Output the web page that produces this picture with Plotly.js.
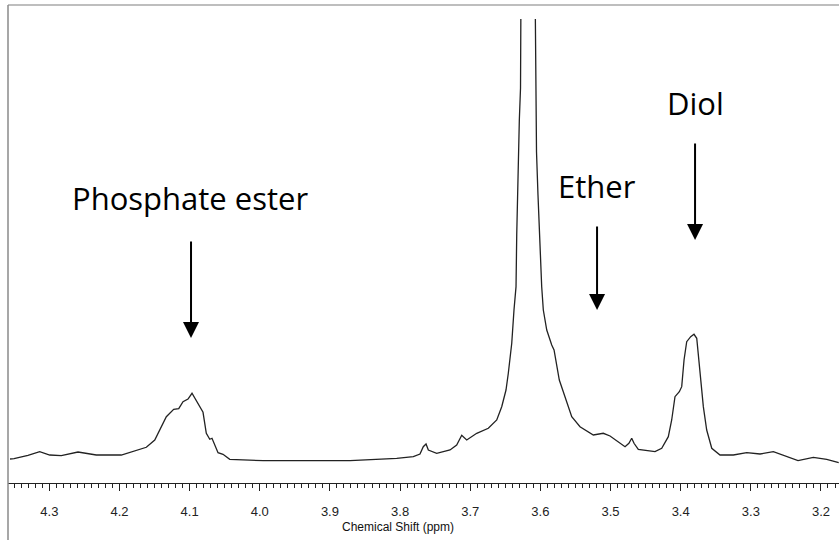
<!DOCTYPE html>
<html>
<head>
<meta charset="utf-8">
<script src="https://cdn.plot.ly/plotly-3.0.1.min.js"></script>
<style>html,body{margin:0;padding:0;background:#fff;}#chart{width:839px;height:540px;}</style>
</head>
<body>
<div id="chart"></div>
<script>
// Chemical shift (ppm) and relative intensity (a.u.)
const shiftPpm = [4.3560,4.3503,4.3304,4.3137,4.2994,4.2829,4.2591,4.2330,4.1974,4.1783,4.1617,4.1497,4.1403,4.1332,4.1227,4.1155,4.1094,4.1023,4.0966,4.0904,4.0809,4.0762,4.0713,4.0681,4.0642,4.0595,4.0524,4.0428,3.9949,3.9383,3.9212,3.8713,3.8048,3.7811,3.7716,3.7669,3.7630,3.7597,3.7478,3.7288,3.7193,3.7121,3.7050,3.6907,3.6742,3.6622,3.6551,3.6490,3.6457,3.6408,3.6376,3.6347,3.6337,3.6319,3.6300,3.6283,3.6269,3.6178,3.6086,3.6076,3.6069,3.6055,3.6034,3.6015,3.5998,3.5981,3.5958,3.5909,3.5838,3.5805,3.5730,3.5624,3.5553,3.5435,3.5245,3.5103,3.5007,3.4793,3.4738,3.4698,3.4665,3.4604,3.4366,3.4270,3.4176,3.4128,3.4081,3.4019,3.3985,3.3952,3.3914,3.3857,3.3810,3.3771,3.3724,3.3677,3.3629,3.3557,3.3439,3.3249,3.3058,3.2869,3.2679,3.2488,3.2327,3.2109,3.1918,3.1747];
const intensity = [0.25,0.33,1.18,2.08,1.25,1.08,2.0,1.25,1.25,2.33,3.18,5.0,8.33,10.83,12.68,12.83,14.58,15.25,16.68,14.83,11.93,6.68,5.18,5.43,3.75,1.83,1.43,0.18,-0.18,-0.18,0,-0.18,0.43,0.83,1.5,3.33,4.0,2.5,1.68,2.5,3.75,6.18,5.0,6.68,7.93,10.0,13.33,17.5,21.68,29.18,37.5,43.33,56.25,72.5,85,93,140,490,140,110.25,92,77,66.25,56.25,50,43.33,37.5,32.5,28.75,27.5,20,14.75,10.83,8.33,6.25,6.68,6.0,3.33,4.18,5.43,4.18,2.68,2.08,2.93,5.83,10.0,15.83,17.08,18.33,25,29.58,30.83,31.43,30.43,22.5,13.33,7.5,2.93,1.25,1.25,1.83,1.5,2.08,0.83,-0.13,0.63,0.18,-0.63];

// Peak labels and arrow tips
const labelText = ["Phosphate ester", "Ether", "Diol"];
const labelPpm = [4.0994, 3.5192, 3.3795];
const labelY = [65.5, 68.5, 89.25];
const arrowPpm = [4.098, 3.5192, 3.3795];
const arrowTipY = [30.5, 37.5, 55];
const arrowLenPx = [98, 85, 98];

const xRange = [4.3589, 3.1743];
const yRange = [-5.75, 110.25];

const annotations = [];
for (let i = 0; i < labelText.length; i++) {
  annotations.push({
    x: labelPpm[i], y: labelY[i], xref: 'x', yref: 'y',
    text: labelText[i], showarrow: false,
    xanchor: 'center', yanchor: 'middle',
    font: {family: 'Open Sans, DejaVu Sans, sans-serif', size: 31, color: '#000'}
  });
  annotations.push({
    x: arrowPpm[i], y: arrowTipY[i], xref: 'x', yref: 'y',
    text: '', showarrow: true, ax: 0, ay: -arrowLenPx[i],
    arrowhead: 2, arrowsize: 1.6, arrowwidth: 2, arrowcolor: '#000', standoff: 0
  });
}
annotations.push({
  x: (398 - 8) / 831, y: (483 - 527) / 464, xref: 'paper', yref: 'paper',
  text: 'Chemical Shift (ppm)', showarrow: false, xanchor: 'center', yanchor: 'middle',
  font: {family: 'Liberation Sans, Arial, sans-serif', size: 12, color: '#111'}
});

const trace = {
  x: shiftPpm, y: intensity, type: 'scatter', mode: 'lines',
  line: {color: '#222', width: 1.3}, hoverinfo: 'skip'
};

const layout = {
  width: 839, height: 540,
  margin: {l: 8, r: 0, t: 19, b: 57, pad: 0},
  paper_bgcolor: '#fff', plot_bgcolor: '#fff',
  showlegend: false,
  xaxis: {
    range: xRange, showgrid: false, zeroline: false,
    showline: true, linecolor: '#222', linewidth: 1,
    ticks: 'outside', ticklen: 7, tickwidth: 1, tickcolor: '#222',
    dtick: 0.1, tick0: 0, tickformat: '.1f', ticklabelstandoff: 9,
    minor: {dtick: 0.01, ticks: 'outside', ticklen: 4, tickcolor: '#222', showgrid: false},
    tickfont: {family: 'Liberation Sans, Arial, sans-serif', size: 13, color: '#222'},
    fixedrange: true
  },
  yaxis: {range: yRange, visible: false, fixedrange: true},
  shapes: [
    {type: 'line', xref: 'paper', yref: 'paper', x0: 0, x1: 1.01, y0: (483 - 5) / 464, y1: (483 - 5) / 464,
     line: {color: '#a8a8a8', width: 1.5}},
    {type: 'line', xref: 'paper', yref: 'paper', x0: 0, x1: 0, y0: (483 - 5) / 464, y1: (483 - 541) / 464,
     line: {color: '#8a8a8a', width: 1.5}}
  ],
  annotations: annotations
};

Plotly.newPlot('chart', [trace], layout, {displayModeBar: false, staticPlot: true});
</script>
</body>
</html>
